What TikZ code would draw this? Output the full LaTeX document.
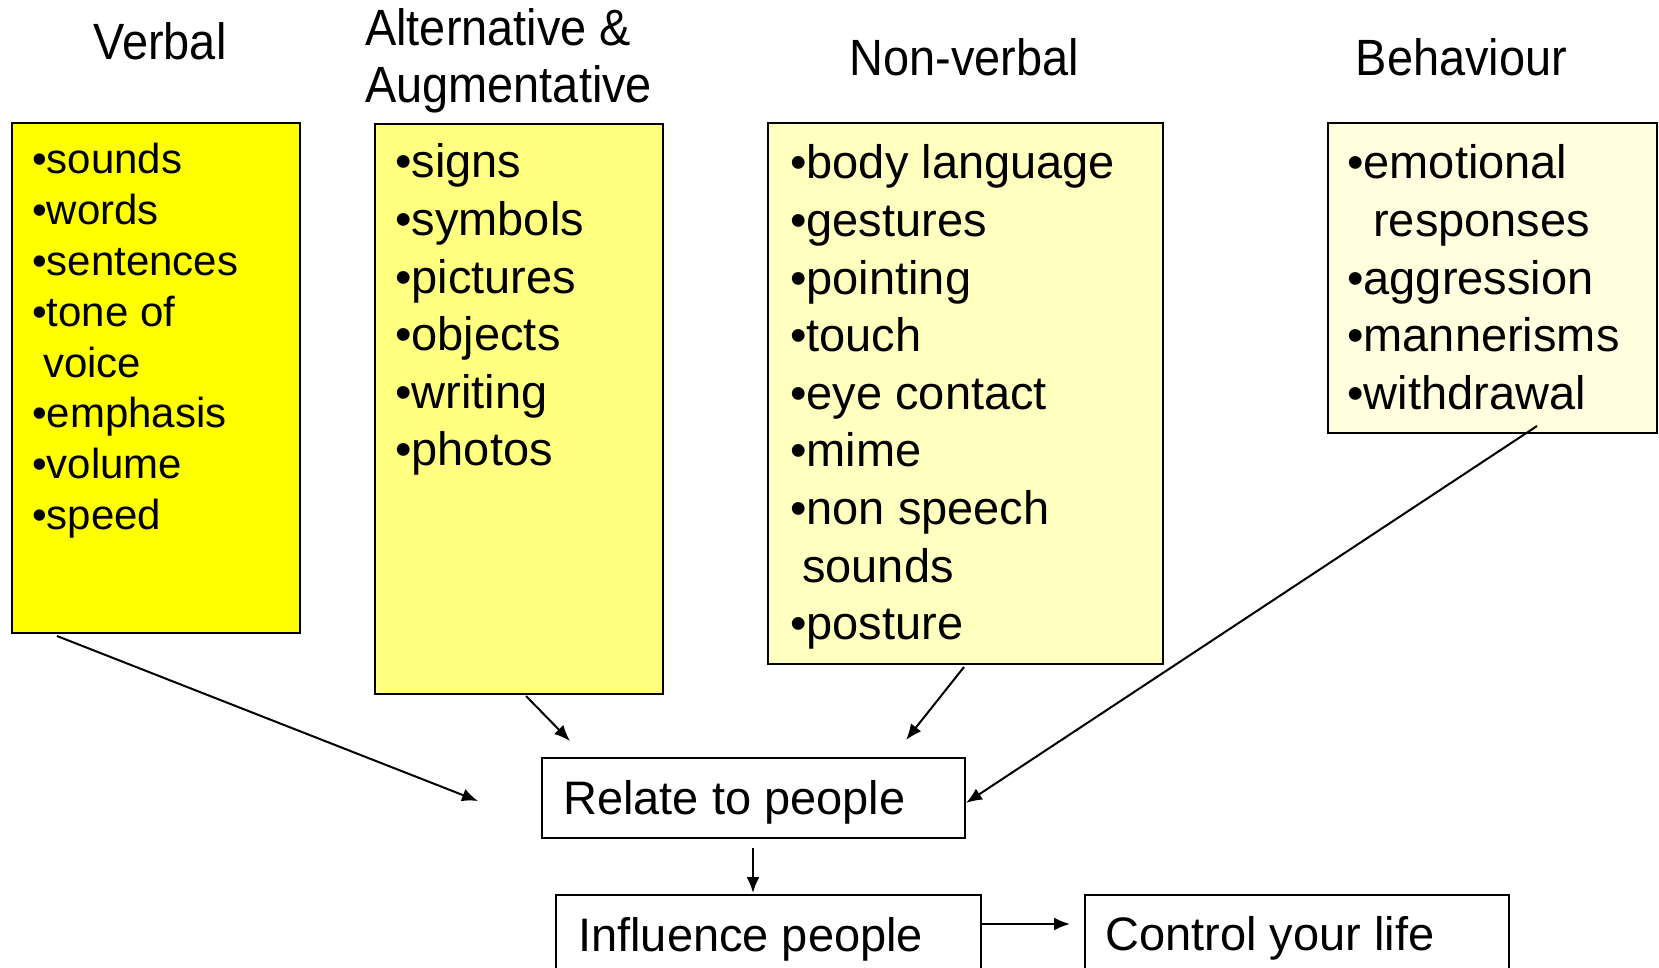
\documentclass[tikz,border=0pt]{standalone}
\usepackage{fontspec}
\setmainfont{Liberation Sans}
\newfontfamily\titlefont[FakeStretch=0.92]{Liberation Sans}
\usetikzlibrary{arrows.meta}
\definecolor{yVerbal}{RGB}{255,255,0}
\definecolor{yAug}{RGB}{255,255,128}
\definecolor{yNon}{RGB}{255,255,192}
\definecolor{yBeh}{RGB}{255,255,224}
\newcommand{\smalllist}{\fontsize{42}{50.8}\selectfont}
\newcommand{\biglist}{\fontsize{47}{57.6}\selectfont}
\newcommand{\ttl}{\titlefont\fontsize{51}{57}\selectfont}
\begin{document}
\begin{tikzpicture}[x=1pt,y=-1pt,
  box/.style={draw=black, line width=2pt, inner sep=0pt, anchor=north west},
  txt/.style={anchor=base west, inner sep=0pt},
  ttlnode/.style={anchor=base, inner sep=0pt, font=\ttl},
  conn/.style={line width=2pt, -{Latex[length=16pt,width=13pt]}}]
\useasboundingbox (0,0) rectangle (1659,968);
\clip (0,0) rectangle (1659,968);

% boxes
\node[box, fill=yVerbal, minimum width=288pt, minimum height=510pt] (vb) at (11,122) {};
\node[box, fill=yAug, minimum width=288pt, minimum height=570pt] (ab) at (374,123) {};
\node[box, fill=yNon, minimum width=395pt, minimum height=541pt] (nb) at (767,122) {};
\node[box, fill=yBeh, minimum width=329pt, minimum height=310pt] (bb) at (1327,122) {};
\node[box, fill=white, minimum width=423pt, minimum height=80pt] (rel) at (541,757) {};
\node[box, fill=white, minimum width=425pt, minimum height=120pt] (inf) at (555,894) {};
\node[box, fill=white, minimum width=424pt, minimum height=120pt] (ctl) at (1084,894) {};

% titles
\node[ttlnode] (tv) at (160,60) {Verbal};
\node[txt] (ta) at (365,45.5) {\parbox[t]{400pt}{\ttl\raggedright Alternative \&\\Augmentative}};
\node[ttlnode] (tn) at (964.5,76) {Non-verbal};
\node[ttlnode] (tb) at (1461.5,76) {Behaviour};

% lists
\node[txt] (vt) at (32,174) {\parbox[t]{260pt}{\smalllist\raggedright
•sounds\\•words\\•sentences\\•tone of\\\hspace*{11pt}voice\\•emphasis\\•volume\\•speed}};
\node[txt] (at) at (395,178) {\parbox[t]{260pt}{\biglist\raggedright
•signs\\•symbols\\•pictures\\•objects\\•writing\\•photos}};
\node[txt] (nt) at (790,179) {\parbox[t]{370pt}{\biglist\raggedright
•body language\\•gestures\\•pointing\\•touch\\•eye contact\\•mime\\•non speech\\\hspace*{12pt}sounds\\•posture}};
\node[txt] (bt) at (1347,179) {\parbox[t]{310pt}{\biglist\raggedright
•emotional\\\hspace*{26pt}responses\\•aggression\\•mannerisms\\•withdrawal}};

% box texts
\node[txt, font=\biglist] (relt) at (563,814) {Relate to people};
\node[txt, font=\biglist] (inft) at (578,951) {Influence people};
\node[txt, font=\biglist] (ctlt) at (1105,950) {Control your life};

% connector ends
\coordinate (v1) at (57,636);
\coordinate (v2) at (478,801);
\coordinate (a1) at (526,696);
\coordinate (a2) at (570,741);
\coordinate (n1) at (964,667);
\coordinate (n2) at (906,740);
\coordinate (b1) at (1537,426);
\coordinate (r1) at (753,848);
\coordinate (r2) at (753,893);
\coordinate (i1) at (981,924);
\coordinate (i2) at (1070,924);

\draw[conn] (v1) -- (v2);
\draw[conn] (a1) -- (a2);
\draw[conn] (n1) -- (n2);
\draw[conn] (b1) -- ([yshift=-5pt]rel.east);
\draw[conn] (r1) -- (r2);
\draw[conn] (i1) -- (i2);
\end{tikzpicture}
\end{document}
